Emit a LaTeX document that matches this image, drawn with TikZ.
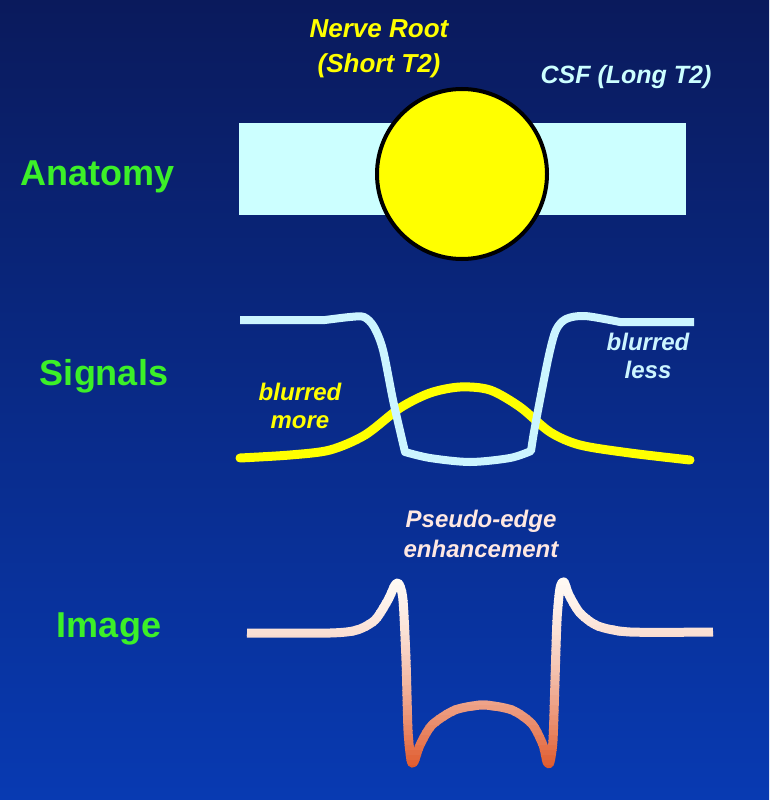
\documentclass[tikz,border=0pt]{standalone}
\usepackage{fontspec}
\setmainfont{Liberation Sans}

\definecolor{bgtop}{RGB}{10,26,92}
\definecolor{bgbot}{RGB}{8,58,178}
\definecolor{labelgreen}{RGB}{60,240,40}
\definecolor{rootyellow}{RGB}{255,255,0}
\definecolor{csfcyan}{RGB}{204,255,255}
\definecolor{sigcyan}{RGB}{204,245,255}
\definecolor{pseudopink}{RGB}{255,232,226}
\definecolor{imgtop}{RGB}{255,250,245}
\definecolor{imgbot}{RGB}{222,80,32}

\newcommand{\imagecurve}{plot[smooth,tension=0.45] coordinates {(247,633) (330,633) (357,630) (375,620) (388,600) (395,585) (399,584) (403,600) (406,660) (408,730) (411,760) (414,762) (420,745) (432,725) (455,710) (483,705) (512,710) (532,724) (543,745) (547,762) (550,762) (553,740) (555,680) (557,620) (560,588) (564,582) (569,595) (580,613) (598,626) (630,632) (713,632)}}

\begin{document}
\begin{tikzpicture}[x=1pt,y=-1pt,
    rowlabel/.style={font=\fontsize{36}{40}\selectfont\bfseries, text=labelgreen, anchor=base, inner sep=0pt},
    note/.style={font=\fontsize{24}{28}\selectfont\bfseries\itshape, align=center, anchor=base, inner sep=0pt},
    sigline/.style={line width=8pt, draw=sigcyan, line join=round},
    blurline/.style={line width=9pt, draw=rootyellow, line cap=round}]
    \useasboundingbox (0,0) rectangle (769,800);
    \shade[top color=bgtop, bottom color=bgbot] (0,0) rectangle (769,800);

    % row labels
    \node[rowlabel] (anatomy) at (98,185) {Anatomy};
    \node[rowlabel] (signals) at (104,385) {Signals};
    \node[rowlabel] (image) at (109,637) {Image};

    % anatomy
    \node[rectangle, fill=csfcyan, minimum width=447pt, minimum height=92pt, inner sep=0pt] (csfband) at (462.5,169) {};
    \node[circle, fill=rootyellow, draw=black, line width=4pt, minimum size=170pt, inner sep=0pt] (root) at (462,174) {};
    \node[note, font=\fontsize{26}{35}\selectfont\bfseries\itshape, text=rootyellow] (nerve) at (379,72) {Nerve Root\\(Short T2)};
    \node[note, font=\fontsize{25}{30}\selectfont\bfseries\itshape, text=csfcyan] (csf) at (626,83) {CSF (Long T2)};

    % signals
    \draw[blurline] plot[smooth,tension=0.5] coordinates {(240,458) (290,455) (330,450) (365,435) (400,408) (430,393) (460,387) (490,390) (520,407) (550,432) (580,445) (630,453) (690,460)};
    \draw[sigline] (240,320) -- (325,320)
        -- plot[smooth,tension=0.5] coordinates {(325,320) (350,317) (364,317) (374,327) (383,350) (393,400) (401,435) (405,452)}
        -- plot[smooth,tension=0.5] coordinates {(405,452) (430,458) (470,462) (510,458) (531,451)}
        -- plot[smooth,tension=0.5] coordinates {(531,451) (534,432) (540,400) (549,355) (556,330) (566,319) (585,316) (620,322)}
        -- (694,322);
    \node[note, text=rootyellow] (more) at (300,428) {blurred\\more};
    \node[note, text=sigcyan] (less) at (648,378) {blurred\\less};

    % image
    \foreach \i in {0,...,39}{
        \pgfmathsetmacro\ya{575+5*\i}
        \pgfmathsetmacro\pc{100*((\i+0.5)/40)^1.5}
        \colorlet{imgband}{imgbot!\pc!imgtop}
        \begin{scope}
            \clip (200,\ya) rectangle (740,\ya+5.3);
            \draw[line width=9pt, draw=imgband, line join=round] \imagecurve;
        \end{scope}
    }
    \node[note, font=\fontsize{24}{30}\selectfont\bfseries\itshape, text=pseudopink] (pseudo) at (481,557) {Pseudo-edge\\enhancement};
\end{tikzpicture}
\end{document}
